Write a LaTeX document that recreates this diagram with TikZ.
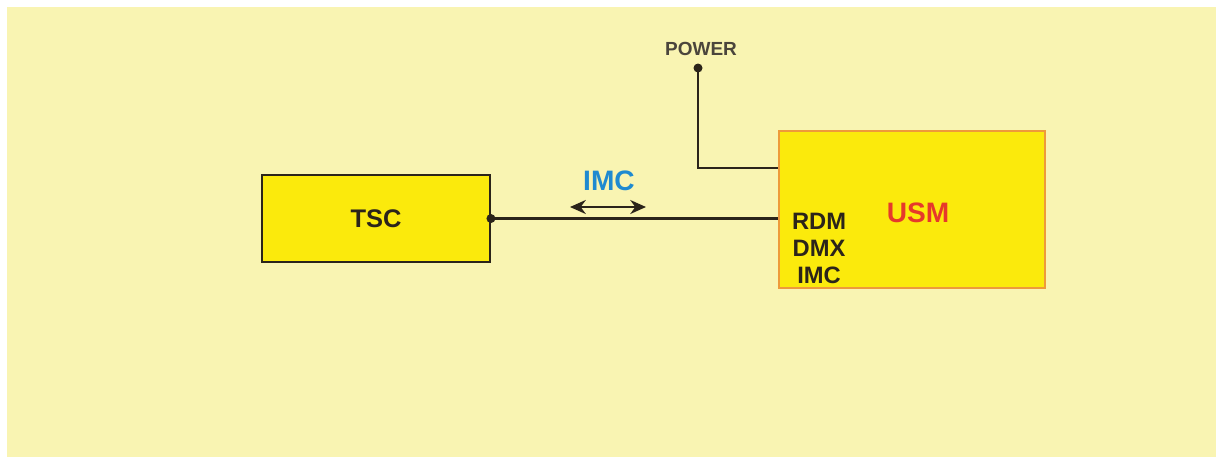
\documentclass[tikz,border=0pt]{standalone}
\usepackage{fontspec}
\setmainfont{Liberation Sans}
\usetikzlibrary{arrows.meta}
\definecolor{bgyellow}{HTML}{F9F4B2}
\definecolor{boxyellow}{HTML}{FBEA0C}
\definecolor{usmorange}{HTML}{EE9A3A}
\definecolor{wire}{HTML}{2B241A}
\definecolor{imcblue}{HTML}{1F8AD0}
\definecolor{usmred}{HTML}{E6392B}
\begin{document}
\begin{tikzpicture}[x=0.02cm,y=-0.02cm,
  block/.style={draw=wire,line width=1.1pt,fill=boxyellow,inner sep=0pt},
  wireline/.style={draw=wire,line width=1.2pt},
  label/.style={font=\bfseries,inner sep=0pt}]
\useasboundingbox (0,0) rectangle (1216,457);
\fill[bgyellow] (7,7) rectangle (1216,457);

\node[block,minimum width=4.56cm,minimum height=1.74cm] (tsc) at (376,218.5) {};
\node[label,font=\fontsize{14.5}{17}\bfseries,text=wire] (tsclabel) at (376,219) {TSC};

\node[block,draw=usmorange,minimum width=5.32cm,minimum height=3.14cm] (usm) at (912,209.5) {};
\node[label,font=\fontsize{16}{19}\bfseries,text=usmred] (usmlabel) at (918,213) {USM};
\node[label,font=\fontsize{13.5}{15.3}\bfseries,text=wire,align=center] (ports) at (819,248.5) {RDM\\DMX\\IMC};

\coordinate (power) at (698,68);
\node[label,font=\fontsize{10.8}{13}\bfseries,text=wire!85] (powerlabel) at (701,49) {POWER};
\fill[wire] (power) circle (4.5);
\draw[wireline] (power) |- (usm.west |- 0,168);

\fill[wire] (tsc.east) circle (4.5);
\draw[wireline] (tsc.east) -- (tsc.east -| usm.west);

\coordinate (imcl) at (570,207);
\coordinate (imcr) at (646,207);
\draw[wireline,{Stealth[length=9pt,width=8pt]}-{Stealth[length=9pt,width=8pt]}] (imcl) -- (imcr);
\node[label,font=\fontsize{16}{19}\bfseries,text=imcblue] (imclabel) at (609,181) {IMC};
\end{tikzpicture}
\end{document}
